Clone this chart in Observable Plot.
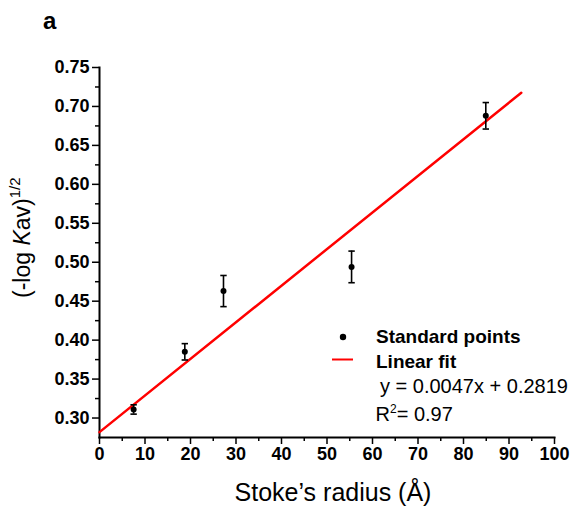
<!DOCTYPE html>
<html>
<head>
<meta charset="utf-8">
<script src="https://cdn.jsdelivr.net/npm/d3@7"></script>
<script src="https://cdn.jsdelivr.net/npm/@observablehq/plot@0.6"></script>
<style>
  html, body { margin: 0; padding: 0; background: #fff; overflow: hidden; }
  #chart { position: relative; width: 576px; height: 510px; }
  #chart g[aria-label$="tick label"] text { font-size: 18px; font-weight: bold; }
</style>
</head>
<body>
<div id="chart"></div>
<script>
// ---- data ----
const radius = [7.5, 18.75, 27.25, 55.4, 84.9];          // Stoke's radius (Å)
const sqrtLogKav = [0.311, 0.385, 0.463, 0.494, 0.688];  // (-log Kav)^1/2
const errors = [0.006, 0.0105, 0.02, 0.0203, 0.017];      // error bar half-heights

const fitX = [0, 92.7];          // fitted line ends (x)
const fitY = [0.2819, 0.7176];   // fitted line ends (y)

const xTicks = [0, 10, 20, 30, 40, 50, 60, 70, 80, 90, 100];
const xMinor = [5, 15, 25, 35, 45, 55, 65, 75, 85, 95];
const yTicks = [0.30, 0.35, 0.40, 0.45, 0.50, 0.55, 0.60, 0.65, 0.70, 0.75];
const yMinor = [0.325, 0.375, 0.425, 0.475, 0.525, 0.575, 0.625, 0.675, 0.725];

const panelLabel = "a";
const xLabel = "Stoke\u2019s radius (\u00C5)";
const legendLabels = ["Standard points", "Linear fit"];
const equationText = "y = 0.0047x + 0.2819";
const r2Text = ["R", "2", "= 0.97"];

// ---- tables built from the arrays ----
const points = radius.map((x, i) => ({x, y: sqrtLogKav[i], lo: sqrtLogKav[i] - errors[i], hi: sqrtLogKav[i] + errors[i]}));
const fit = fitX.map((x, i) => ({x, y: fitY[i]}));

const FONT = "'Liberation Sans', Arial, Helvetica, sans-serif";

const capSymbol = {
  draw(context, size) {
    const w = Math.sqrt(size / Math.PI);
    context.moveTo(-w, 0);
    context.lineTo(w, 0);
  }
};

const chart = Plot.plot({
  width: 576,
  height: 510,
  marginLeft: 99,
  marginRight: 22,
  marginTop: 67,
  marginBottom: 73,
  style: {fontFamily: FONT, fontSize: "18px", fontWeight: "bold", background: "#fff", color: "#000"},
  x: {domain: [0, 100]},
  y: {domain: [0.275, 0.75]},
  marks: [
    Plot.axisX(xTicks, {tickSize: 7, tickPadding: 3, strokeWidth: 1.5, label: null, tickFormat: d => String(d)}),
    Plot.axisX(xMinor, {tickSize: 4, strokeWidth: 1.5, text: null, label: null}),
    Plot.axisY(yTicks, {tickSize: 7, tickPadding: 3, strokeWidth: 1.5, label: null, tickFormat: d => d.toFixed(2)}),
    Plot.axisY(yMinor, {tickSize: 4, strokeWidth: 1.5, text: null, label: null}),
    Plot.frame({anchor: "left", stroke: "#000", strokeWidth: 2}),
    Plot.frame({anchor: "bottom", stroke: "#000", strokeWidth: 2}),
    Plot.line(fit, {x: "x", y: "y", stroke: "#ff0000", strokeWidth: 2.5}),
    Plot.ruleX(points, {x: "x", y1: "lo", y2: "hi", stroke: "#000", strokeWidth: 1.6}),
    Plot.dot(points, {x: "x", y: "lo", symbol: capSymbol, r: 3.2, stroke: "#000", strokeWidth: 1.6, fill: "none"}),
    Plot.dot(points, {x: "x", y: "hi", symbol: capSymbol, r: 3.2, stroke: "#000", strokeWidth: 1.6, fill: "none"}),
    Plot.dot(points, {x: "x", y: "y", r: 3, fill: "#000", stroke: "none"})
  ]
});

document.getElementById("chart").appendChild(chart);

const svg = d3.select(chart);

// panel label
svg.append("text")
  .attr("x", 43).attr("y", 29).attr("text-anchor", "start")
  .attr("font-family", FONT).attr("font-size", 24).attr("font-weight", "bold")
  .text(panelLabel);

// x axis label
svg.append("text")
  .attr("x", 333).attr("y", 501)
  .attr("text-anchor", "middle")
  .attr("font-family", FONT).attr("font-size", 25).attr("font-weight", "normal")
  .text(xLabel);

// y axis label
const yl = svg.append("text")
  .attr("transform", "translate(30,298) rotate(-90)")
  .attr("text-anchor", "start")
  .attr("font-family", FONT).attr("font-size", 23).attr("font-weight", "normal");
yl.append("tspan").text("(-log ");
yl.append("tspan").attr("font-style", "italic").text("K");
yl.append("tspan").text("av)");
yl.append("tspan").attr("font-size", 15).attr("dy", -10).text("1/2");

// legend
const lg = svg.append("g").attr("font-family", FONT).attr("text-anchor", "start");
lg.append("circle").attr("cx", 343).attr("cy", 337).attr("r", 3.2).attr("fill", "#000");
lg.append("text").attr("x", 376).attr("y", 343)
  .attr("font-size", 19).attr("font-weight", "bold").text(legendLabels[0]);
lg.append("line").attr("x1", 332).attr("x2", 353).attr("y1", 359.5).attr("y2", 359.5)
  .attr("stroke", "#ff0000").attr("stroke-width", 2);
lg.append("text").attr("x", 376).attr("y", 368)
  .attr("font-size", 19).attr("font-weight", "bold").text(legendLabels[1]);
lg.append("text").attr("x", 380).attr("y", 393)
  .attr("font-size", 20).attr("font-weight", "normal").text(equationText);
const r2 = lg.append("text").attr("x", 375.5).attr("y", 421).attr("font-size", 20).attr("font-weight", "normal");
r2.append("tspan").text(r2Text[0]);
r2.append("tspan").attr("font-size", 12).attr("dy", -8).text(r2Text[1]);
r2.append("tspan").attr("dy", 8).text(r2Text[2]);
</script>
</body>
</html>
